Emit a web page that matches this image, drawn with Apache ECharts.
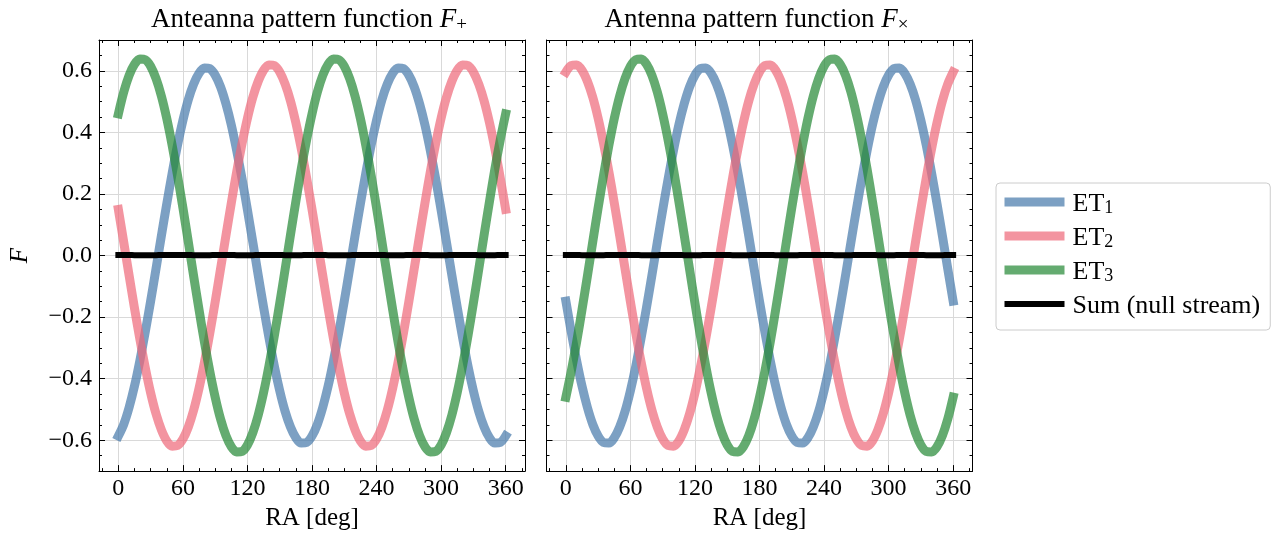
<!DOCTYPE html>
<html><head><meta charset="utf-8">
<script src="https://cdn.jsdelivr.net/npm/echarts@6/dist/echarts.min.js"></script>
<style>html,body{margin:0;padding:0;background:#fff}#c{width:1280px;height:536px}</style>
</head><body><div id="c"></div><script>
// ---- data ----
const ra = [0,5,10,15,20,25,30,35,40,45,50,55,60,65,70,75,80,85,90,95,100,105,110,115,120,125,130,135,140,145,150,155,160,165,170,175,
            180,185,190,195,200,205,210,215,220,225,230,235,240,245,250,255,260,265,270,275,280,285,290,295,300,305,310,315,320,325,330,335,340,345,350,355,360];

const plusET1 = [-0.586,-0.548,-0.493,-0.424,-0.341,-0.248,-0.148,-0.043,0.064,0.168,0.267,0.359,0.439,0.506,0.557,0.592,0.609,0.607,
                 0.586,0.548,0.493,0.424,0.341,0.248,0.148,0.043,-0.064,-0.168,-0.267,-0.359,-0.439,-0.506,-0.557,-0.592,-0.609,-0.607,
                 -0.586,-0.548,-0.493,-0.424,-0.341,-0.248,-0.148,-0.043,0.064,0.168,0.267,0.359,0.439,0.506,0.557,0.592,0.609,0.607,
                 0.586,0.548,0.493,0.424,0.341,0.248,0.148,0.043,-0.064,-0.168,-0.267,-0.359,-0.439,-0.506,-0.557,-0.592,-0.609,-0.607,-0.586];
const plusET2 = [0.150,0.043,-0.065,-0.171,-0.272,-0.364,-0.446,-0.514,-0.566,-0.602,-0.619,-0.617,-0.596,-0.557,-0.502,-0.431,-0.347,-0.252,
                 -0.150,-0.043,0.065,0.171,0.272,0.364,0.446,0.514,0.566,0.602,0.619,0.617,0.596,0.557,0.502,0.431,0.347,0.252,
                 0.150,0.043,-0.065,-0.171,-0.272,-0.364,-0.446,-0.514,-0.566,-0.602,-0.619,-0.617,-0.596,-0.557,-0.502,-0.431,-0.347,-0.252,
                 -0.150,-0.043,0.065,0.171,0.272,0.364,0.446,0.514,0.566,0.602,0.619,0.617,0.596,0.557,0.502,0.431,0.347,0.252,0.150];
const plusET3 = [0.460,0.531,0.585,0.621,0.638,0.636,0.615,0.575,0.518,0.445,0.358,0.260,0.155,0.045,-0.067,-0.176,-0.281,-0.376,
                 -0.460,-0.531,-0.585,-0.621,-0.638,-0.636,-0.615,-0.575,-0.518,-0.445,-0.358,-0.260,-0.155,-0.045,0.067,0.176,0.281,0.376,
                 0.460,0.531,0.585,0.621,0.638,0.636,0.615,0.575,0.518,0.445,0.358,0.260,0.155,0.045,-0.067,-0.176,-0.281,-0.376,
                 -0.460,-0.531,-0.585,-0.621,-0.638,-0.636,-0.615,-0.575,-0.518,-0.445,-0.358,-0.260,-0.155,-0.045,0.067,0.176,0.281,0.376,0.460];
const plusSum = [0.002,0.002,0.002,0.001,0.001,0.001,0.001,0.001,0.002,0.002,0.002,0.002,0.002,0.002,0.001,0.001,0.001,0.001,
                 0.002,0.002,0.002,0.002,0.001,0.001,0.001,0.001,0.002,0.002,0.002,0.002,0.002,0.001,0.001,0.001,0.001,0.002,
                 0.002,0.002,0.002,0.001,0.001,0.001,0.001,0.001,0.002,0.002,0.002,0.002,0.002,0.002,0.001,0.001,0.001,0.001,
                 0.002,0.002,0.002,0.002,0.001,0.001,0.001,0.001,0.002,0.002,0.002,0.002,0.002,0.001,0.001,0.001,0.001,0.002,0.002];

const crossET1 = [-0.148,-0.248,-0.341,-0.424,-0.493,-0.548,-0.586,-0.607,-0.609,-0.592,-0.557,-0.506,-0.439,-0.359,-0.267,-0.168,-0.064,0.043,
                  0.148,0.248,0.341,0.424,0.493,0.548,0.586,0.607,0.609,0.592,0.557,0.506,0.439,0.359,0.267,0.168,0.064,-0.043,
                  -0.148,-0.248,-0.341,-0.424,-0.493,-0.548,-0.586,-0.607,-0.609,-0.592,-0.557,-0.506,-0.439,-0.359,-0.267,-0.168,-0.064,0.043,
                  0.148,0.248,0.341,0.424,0.493,0.548,0.586,0.607,0.609,0.592,0.557,0.506,0.439,0.359,0.267,0.168,0.064,-0.043,-0.148];
const crossET2 = [0.596,0.617,0.619,0.602,0.566,0.514,0.446,0.364,0.272,0.171,0.065,-0.043,-0.150,-0.252,-0.347,-0.431,-0.502,-0.557,
                  -0.596,-0.617,-0.619,-0.602,-0.566,-0.514,-0.446,-0.364,-0.272,-0.171,-0.065,0.043,0.150,0.252,0.347,0.431,0.502,0.557,
                  0.596,0.617,0.619,0.602,0.566,0.514,0.446,0.364,0.272,0.171,0.065,-0.043,-0.150,-0.252,-0.347,-0.431,-0.502,-0.557,
                  -0.596,-0.617,-0.619,-0.602,-0.566,-0.514,-0.446,-0.364,-0.272,-0.171,-0.065,0.043,0.150,0.252,0.347,0.431,0.502,0.557,0.596];
const crossET3 = [-0.460,-0.376,-0.281,-0.176,-0.067,0.045,0.155,0.260,0.358,0.445,0.518,0.575,0.615,0.636,0.638,0.621,0.585,0.531,
                  0.460,0.376,0.281,0.176,0.067,-0.045,-0.155,-0.260,-0.358,-0.445,-0.518,-0.575,-0.615,-0.636,-0.638,-0.621,-0.585,-0.531,
                  -0.460,-0.376,-0.281,-0.176,-0.067,0.045,0.155,0.260,0.358,0.445,0.518,0.575,0.615,0.636,0.638,0.621,0.585,0.531,
                  0.460,0.376,0.281,0.176,0.067,-0.045,-0.155,-0.260,-0.358,-0.445,-0.518,-0.575,-0.615,-0.636,-0.638,-0.621,-0.585,-0.531,-0.460];
const crossSum = [0.002,0.002,0.002,0.001,0.001,0.001,0.001,0.001,0.002,0.002,0.002,0.002,0.002,0.002,0.001,0.001,0.001,0.001,
                  0.002,0.002,0.002,0.002,0.001,0.001,0.001,0.001,0.002,0.002,0.002,0.002,0.002,0.001,0.001,0.001,0.001,0.002,
                  0.002,0.002,0.002,0.001,0.001,0.001,0.001,0.001,0.002,0.002,0.002,0.002,0.002,0.002,0.001,0.001,0.001,0.001,
                  0.002,0.002,0.002,0.002,0.001,0.001,0.001,0.001,0.002,0.002,0.002,0.002,0.002,0.001,0.001,0.001,0.001,0.002,0.002];

const seriesNames = ['ET1','ET2','ET3','Sum (null stream)'];
const legendMain = ['ET','ET','ET','Sum (null stream)'];
const legendSub = ['1','2','3',''];
const titleMain = ['Anteanna pattern function ','Antenna pattern function '];
const titleSub = ['+','\u00d7'];

const xTickValues = [0,60,120,180,240,300,360];
const xTickLabels = ['0','60','120','180','240','300','360'];
const xMinorValues = [-15,0,15,30,45,60,75,90,105,120,135,150,165,180,195,210,225,240,255,270,285,300,315,330,345,360,375];
const yTickValues = [-0.6,-0.4,-0.2,0,0.2,0.4,0.6];
const yTickLabels = ['\u22120.6','\u22120.4','\u22120.2','0.0','0.2','0.4','0.6'];
const yMinorValues = [-0.7,-0.65,-0.6,-0.55,-0.5,-0.45,-0.4,-0.35,-0.3,-0.25,-0.2,-0.15,-0.1,-0.05,0,0.05,0.1,0.15,0.2,0.25,0.3,0.35,0.4,0.45,0.5,0.55,0.6,0.65,0.7];

// ---- styling ----
const FONT = 'Liberation Serif';
const colors = ['rgba(68,119,170,0.7)','rgba(238,102,119,0.7)','rgba(34,136,51,0.7)','#000000'];
const widths = [9,9,9,6];
const XMIN = -18, XMAX = 378, YMIN = -0.70, YMAX = 0.70;
const gridLefts = [99, 546.5];
const GTOP = 40, GW = 426, GH = 432;

function xLabel(v){ const i = xTickValues.indexOf(Math.round(v)); return i>=0 ? xTickLabels[i] : ''; }
function yLabel(v){ let best=0; for(let i=0;i<yTickValues.length;i++){ if(Math.abs(yTickValues[i]-v)<Math.abs(yTickValues[best]-v)) best=i; } return yTickLabels[best]; }

const grids = [], xAxes = [], yAxes = [], series = [], titles = [];
const panelData = [[plusET1,plusET2,plusET3,plusSum],[crossET1,crossET2,crossET3,crossSum]];

for (let g=0; g<2; g++){
  grids.push({left: gridLefts[g], top: GTOP, width: GW, height: GH, containLabel:false});
  const base = {type:'value', gridIndex:g, min:XMIN, max:XMAX};
  xAxes.push(Object.assign({}, base, {
    position:'bottom',
    axisLine:{show:true, onZero:false, lineStyle:{color:'#000', width:1}},
    axisTick:{show:true, inside:true, length:6, customValues:xTickValues, lineStyle:{color:'#000', width:1}},
    axisLabel:{show:true, customValues:xTickValues, formatter:xLabel, margin:6, color:'#000', fontFamily:FONT, fontSize:24},
    splitLine:{show:true, lineStyle:{color:'#d9d9d9', width:1}},
    name:'RA [deg]', nameLocation:'middle', nameGap:34,
    nameTextStyle:{color:'#000', fontFamily:FONT, fontSize:25}
  }));
  xAxes.push(Object.assign({}, base, {
    position:'bottom',
    axisLine:{show:false, onZero:false},
    axisTick:{show:true, inside:true, length:3, customValues:xMinorValues, lineStyle:{color:'#000', width:1}},
    axisLabel:{show:false}, splitLine:{show:false}
  }));
  xAxes.push(Object.assign({}, base, {
    position:'top',
    axisLine:{show:true, onZero:false, lineStyle:{color:'#000', width:1}},
    axisTick:{show:true, inside:true, length:6, customValues:xTickValues, lineStyle:{color:'#000', width:1}},
    axisLabel:{show:false}, splitLine:{show:false}
  }));
  xAxes.push(Object.assign({}, base, {
    position:'top',
    axisLine:{show:false, onZero:false},
    axisTick:{show:true, inside:true, length:3, customValues:xMinorValues, lineStyle:{color:'#000', width:1}},
    axisLabel:{show:false}, splitLine:{show:false}
  }));

  const ybase = {type:'value', gridIndex:g, min:YMIN, max:YMAX};
  const leftMajor = Object.assign({}, ybase, {
    position:'left',
    axisLine:{show:true, onZero:false, lineStyle:{color:'#000', width:1}},
    axisTick:{show:true, inside:true, length:6, customValues:yTickValues, lineStyle:{color:'#000', width:1}},
    axisLabel:{show:g===0, customValues:yTickValues, formatter:yLabel, margin:7, color:'#000', fontFamily:FONT, fontSize:24},
    splitLine:{show:true, lineStyle:{color:'#d9d9d9', width:1}}
  });
  if (g===0){
    leftMajor.name = 'F';
    leftMajor.nameLocation = 'middle';
    leftMajor.nameGap = 66;
    leftMajor.nameTextStyle = {color:'#000', fontFamily:FONT, fontSize:25, fontStyle:'italic'};
  }
  yAxes.push(leftMajor);
  yAxes.push(Object.assign({}, ybase, {
    position:'left',
    axisLine:{show:false, onZero:false},
    axisTick:{show:true, inside:true, length:3, customValues:yMinorValues, lineStyle:{color:'#000', width:1}},
    axisLabel:{show:false}, splitLine:{show:false}
  }));
  yAxes.push(Object.assign({}, ybase, {
    position:'right',
    axisLine:{show:true, onZero:false, lineStyle:{color:'#000', width:1}},
    axisTick:{show:true, inside:true, length:6, customValues:yTickValues, lineStyle:{color:'#000', width:1}},
    axisLabel:{show:false}, splitLine:{show:false}
  }));
  yAxes.push(Object.assign({}, ybase, {
    position:'right',
    axisLine:{show:false, onZero:false},
    axisTick:{show:true, inside:true, length:3, customValues:yMinorValues, lineStyle:{color:'#000', width:1}},
    axisLabel:{show:false}, splitLine:{show:false}
  }));

  for (let s=0; s<4; s++){
    const vals = panelData[g][s];
    series.push({
      type:'line', name:seriesNames[s], xAxisIndex:g*4, yAxisIndex:g*4,
      data: ra.map((x,i)=>[x, vals[i]]),
      smooth:0.3, symbol:'none', showSymbol:false,
      lineStyle:{color:colors[s], width:widths[s], cap:'square', join:'round'},
      itemStyle:{color:colors[s]},
      emphasis:{disabled:true}, animation:false, z: 2+s
    });
  }

  titles.push({
    text: titleMain[g] + '{i|F}{s|' + titleSub[g] + '}',
    left: gridLefts[g] + GW/2 - 3, top: 5, textAlign:'center', padding:0,
    textStyle:{color:'#000', fontFamily:FONT, fontSize:27, fontWeight:'normal', lineHeight:30,
      rich:{
        i:{fontFamily:FONT, fontSize:27, fontStyle:'italic', color:'#000', lineHeight:30},
        s:{fontFamily:FONT, fontSize:19, color:'#000', lineHeight:18, verticalAlign:'bottom'}
      }}
  });
}

const chart = echarts.init(document.getElementById('c'), null, {renderer:'canvas'});
chart.setOption({
  animation:false,
  backgroundColor:'#ffffff',
  title: titles,
  grid: grids,
  xAxis: xAxes,
  yAxis: yAxes,
  legend: {
    data: seriesNames,
    orient:'vertical', left:996, top:183,
    padding:[8,10,11,4], itemGap:8, itemWidth:60, itemHeight:14,
    borderColor:'#cccccc', borderWidth:1, borderRadius:4, backgroundColor:'#ffffff',
    lineStyle:{width:'inherit', cap:'butt'},
    itemStyle:{opacity:0},
    selectedMode:false,
    formatter: function(name){ const i = seriesNames.indexOf(name); return '{m|' + legendMain[i] + '}' + (legendSub[i] ? '{s|' + legendSub[i] + '}' : ''); },
    textStyle:{color:'#000', fontFamily:FONT, fontSize:26, padding:[0,0,0,3],
      rich:{
        m:{fontFamily:FONT, fontSize:26, color:'#000', lineHeight:30, verticalAlign:'bottom'},
        s:{fontFamily:FONT, fontSize:18, color:'#000', lineHeight:18, verticalAlign:'bottom'}
      }}
  },
  series: series
});
</script></body></html>
